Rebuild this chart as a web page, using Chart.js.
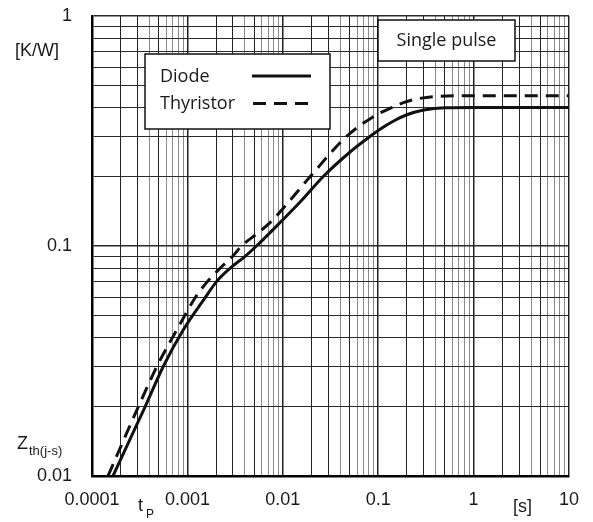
<!DOCTYPE html>
<html><head><meta charset="utf-8">
<script src="https://cdn.jsdelivr.net/npm/chart.js@4"></script>
<style>html,body{margin:0;padding:0;background:#fff}#wrap{width:593px;height:522px}</style>
</head><body><div id="wrap"><canvas id="c" width="593" height="522"></canvas></div>
<script>
// ---- data ----
const seriesNames = ['Diode', 'Thyristor'];
const diodeT = [1.66e-4, 3.6e-4, 5.6e-4, 9.0e-4, 1.55e-3, 2.02e-3, 2.8e-3, 4.0e-3, 5.3e-3, 0.01, 0.0158, 0.0264, 0.05, 0.08, 0.1, 0.15, 0.2, 0.3, 0.5, 1, 10];
const diodeZ = [0.01, 0.02, 0.03, 0.043, 0.06, 0.07, 0.08, 0.09, 0.1, 0.13, 0.158, 0.2, 0.255, 0.297, 0.318, 0.352, 0.372, 0.39, 0.399, 0.40, 0.40];
const thyrT = [1.47e-4, 3.06e-4, 4.8e-4, 7.7e-4, 1.22e-3, 1.62e-3, 2.2e-3, 2.97e-3, 3.7e-3, 5.5e-3, 7.3e-3, 0.011, 0.0193, 0.0468, 0.089, 0.13, 0.2, 0.38, 1, 10];
const thyrZ = [0.01, 0.02, 0.03, 0.043, 0.06, 0.07, 0.08, 0.09, 0.1, 0.114, 0.126, 0.152, 0.2, 0.3, 0.365, 0.395, 0.425, 0.446, 0.45, 0.45];
const xTickValues = [0.0001, 0.001, 0.01, 0.1, 1, 10];
const xTickLabels = ['0.0001', '0.001', '0.01', '0.1', '1', '10'];
const yTickValues = [0.01, 0.1, 1];
const yTickLabels = ['0.01', '0.1', '1'];

const toPts = (xs, ys) => xs.map((x, i) => ({x, y: ys[i]}));

function gridValues(decades) {
  const out = [];
  for (let i = 0; i < decades.length - 1; i++) {
    for (let m = 1; m <= 9; m++) out.push(parseFloat((m * decades[i]).toPrecision(3)));
  }
  out.push(decades[decades.length - 1]);
  return out;
}
function signif(v) {
  const e = Math.floor(Math.log10(v) + 1e-9);
  return Math.round(v / Math.pow(10, e));
}
function labelFor(values, labels, v) {
  const i = values.findIndex(d => Math.abs(d - v) / d < 1e-6);
  return i >= 0 ? labels[i] : '';
}

const extras = {
  id: 'extras',
  afterDraw(chart) {
    const ctx = chart.ctx;
    ctx.save();
    // Legend box
    ctx.fillStyle = '#fff';
    ctx.fillRect(145, 54, 185, 75);
    ctx.strokeStyle = '#111'; ctx.lineWidth = 1.5;
    ctx.strokeRect(145, 54, 185, 75);
    ctx.fillStyle = '#1a1a1a';
    ctx.font = '18px "Open Sans"';
    ctx.textBaseline = 'middle'; ctx.textAlign = 'left';
    const ds = chart.data.datasets;
    ctx.fillText(ds[0].label, 160, 77);
    ctx.fillText(ds[1].label, 160, 104);
    ctx.lineWidth = 3; ctx.strokeStyle = '#111';
    ctx.setLineDash([]);
    ctx.beginPath(); ctx.moveTo(252, 76); ctx.lineTo(311, 76); ctx.stroke();
    ctx.setLineDash([13, 8]);
    ctx.beginPath(); ctx.moveTo(253, 103.5); ctx.lineTo(309, 103.5); ctx.stroke();
    ctx.setLineDash([]);
    // Single pulse box
    ctx.fillStyle = '#fff';
    ctx.fillRect(378, 20, 137, 41);
    ctx.lineWidth = 1.5;
    ctx.strokeRect(378, 20, 137, 41);
    ctx.fillStyle = '#1a1a1a';
    ctx.textAlign = 'center';
    ctx.fillText('Single pulse', 446.5, 41);
    // Axis titles
    ctx.textAlign = 'left'; ctx.textBaseline = 'alphabetic';
    ctx.font = '18px "Liberation Sans"';
    ctx.fillText('[K/W]', 15, 56);
    ctx.fillText('Z', 17, 449);
    ctx.font = '13px "Liberation Sans"';
    ctx.fillText('th(j-s)', 29, 455);
    ctx.font = '18px "Liberation Sans"';
    ctx.fillText('t', 138, 511);
    ctx.font = '12px "Liberation Sans"';
    ctx.fillText('P', 146, 518);
    ctx.font = '18px "Liberation Sans"';
    ctx.fillText('[s]', 513, 512);
    ctx.restore();
  }
};

new Chart(document.getElementById('c'), {
  type: 'line',
  data: {
    datasets: [
      { label: seriesNames[0], data: toPts(diodeT, diodeZ), borderColor: '#111', borderWidth: 3,
        pointRadius: 0, cubicInterpolationMode: 'monotone', fill: false },
      { label: seriesNames[1], data: toPts(thyrT, thyrZ), borderColor: '#111', borderWidth: 3,
        borderDash: [13, 8], pointRadius: 0, cubicInterpolationMode: 'monotone', fill: false }
    ]
  },
  options: {
    responsive: false, animation: false, devicePixelRatio: 1,
    layout: { padding: { top: 16, right: 24, left: 0, bottom: 0 } },
    plugins: { legend: { display: false }, tooltip: { enabled: false } },
    scales: {
      x: {
        type: 'logarithmic', min: xTickValues[0], max: xTickValues[xTickValues.length - 1],
        afterBuildTicks: s => { s.ticks = gridValues(xTickValues).map(v => ({value: v})); },
        afterFit: s => { s.height = 46; s.paddingLeft = 0; s.paddingRight = 0; },
        ticks: { autoSkip: false, maxRotation: 0, padding: 13, color: '#1a1a1a',
          font: { family: '"Liberation Sans"', size: 18 },
          callback: (v) => labelFor(xTickValues, xTickLabels, v) },
        grid: { drawTicks: false,
          color: c => { const s = signif(c.tick.value); return (s === 1 || s === 2 || s === 3 || s === 5) ? '#222' : '#8a8a8a'; },
          lineWidth: c => (signif(c.tick.value) === 1 ? 1.5 : 1) },
        border: { display: true, color: '#000', width: 2.5 }
      },
      y: {
        type: 'logarithmic', min: yTickValues[0], max: yTickValues[yTickValues.length - 1],
        afterBuildTicks: s => { s.ticks = gridValues(yTickValues).map(v => ({value: v})); },
        afterFit: s => { s.width = 92; s.paddingTop = 0; s.paddingBottom = 0; },
        ticks: { autoSkip: false, padding: 20, color: '#1a1a1a',
          font: { family: '"Liberation Sans"', size: 18 },
          callback: (v) => labelFor(yTickValues, yTickLabels, v) },
        grid: { drawTicks: false, color: '#2a2a2a',
          lineWidth: c => (signif(c.tick.value) === 1 ? 1.5 : 1) },
        border: { display: true, color: '#000', width: 2.5 }
      }
    }
  },
  plugins: [extras]
});
</script>
</body></html>
